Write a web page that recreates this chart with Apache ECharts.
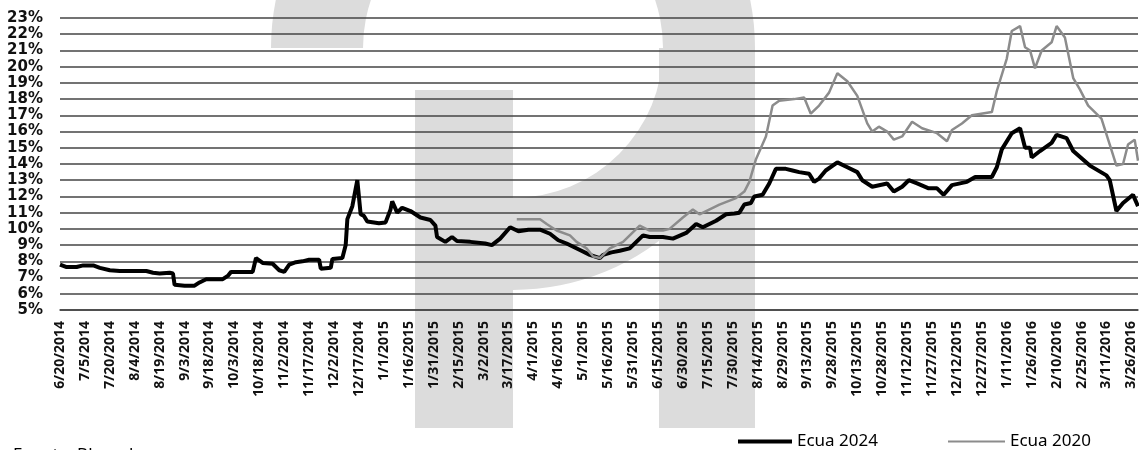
<!DOCTYPE html>
<html>
<head>
<meta charset="utf-8">
<script src="https://cdn.jsdelivr.net/npm/echarts@6/dist/echarts.min.js"></script>
<style>
html,body{margin:0;padding:0;background:#fff;}
#chart{width:1139px;height:450px;}
</style>
</head>
<body>
<div id="chart"></div>
<script>
// Axis start date; x values below are days since this date
const startDate = '2014-06-20';
const tickStepDays = 15;
const xTickLabels = ['6/20/2014','7/5/2014','7/20/2014','8/4/2014','8/19/2014','9/3/2014','9/18/2014','10/3/2014','10/18/2014','11/2/2014','11/17/2014','12/2/2014','12/17/2014','1/1/2015','1/16/2015','1/31/2015','2/15/2015','3/2/2015','3/17/2015','4/1/2015','4/16/2015','5/1/2015','5/16/2015','5/31/2015','6/15/2015','6/30/2015','7/15/2015','7/30/2015','8/14/2015','8/29/2015','9/13/2015','9/28/2015','10/13/2015','10/28/2015','11/12/2015','11/27/2015','12/12/2015','12/27/2015','1/11/2016','1/26/2016','2/10/2016','2/25/2016','3/11/2016','3/26/2016'];
const lastDay = 649;

const seriesNames = ['Ecua 2024', 'Ecua 2020'];

const ecua2024Days = [0,4,10,14,20,24,30,36,52,56,60,66,68,69,75,81,84,88,98,101,103,116,118,122,128,132,135,138,142,146,150,156,157,163,164,170,172,173,176,179,181,183,185,192,196,199,200,203,206,211,217,223,226,227,232,236,239,247,256,260,265,271,276,282,289,295,300,305,313,319,325,327,332,337,343,347,351,355,363,369,377,383,387,395,401,406,409,412,416,418,423,427,431,437,441,445,451,454,457,461,468,474,480,483,489,498,502,507,511,516,523,528,532,537,546,551,561,564,567,573,578,581,584,585,590,597,600,606,610,620,630,632,636,640,646,647,649];
const ecua2024Values = [7.8,7.65,7.65,7.75,7.75,7.6,7.45,7.4,7.4,7.3,7.25,7.3,7.25,6.55,6.5,6.5,6.7,6.9,6.9,7.1,7.35,7.35,8.2,7.9,7.85,7.45,7.35,7.8,7.95,8.0,8.1,8.1,7.55,7.6,8.15,8.2,9.0,10.6,11.4,13.0,10.9,10.8,10.45,10.35,10.4,11.2,11.7,11.0,11.3,11.1,10.7,10.55,10.2,9.5,9.2,9.5,9.25,9.2,9.1,9.0,9.4,10.1,9.85,9.95,9.95,9.7,9.3,9.1,8.7,8.4,8.2,8.4,8.55,8.65,8.8,9.2,9.6,9.5,9.5,9.4,9.75,10.3,10.1,10.5,10.9,10.95,11.0,11.5,11.6,12.0,12.1,12.8,13.7,13.7,13.6,13.5,13.4,12.9,13.1,13.6,14.1,13.8,13.5,13.0,12.6,12.8,12.3,12.6,13.0,12.8,12.5,12.5,12.1,12.7,12.9,13.2,13.2,13.8,14.9,15.9,16.2,15.0,15.0,14.4,14.8,15.3,15.8,15.6,14.8,13.9,13.3,13.0,11.1,11.6,12.1,12.1,11.4];

const ecua2020Days = [275,289,293,299,307,311,317,321,325,331,339,341,345,349,355,363,367,375,381,385,397,407,412,415,419,425,429,433,442,448,452,457,463,468,474,480,486,489,493,498,502,507,513,519,528,534,537,543,549,561,564,570,573,578,581,584,587,591,597,600,605,610,614,619,627,632,636,640,643,647,649];
const ecua2020Values = [10.6,10.6,10.3,9.9,9.6,9.2,8.8,8.3,8.2,8.8,9.2,9.4,9.8,10.2,9.9,9.9,10.0,10.7,11.2,10.9,11.5,11.9,12.3,12.9,14.3,15.7,17.6,17.9,18.0,18.1,17.1,17.6,18.4,19.6,19.1,18.2,16.5,16.0,16.3,16.0,15.5,15.7,16.6,16.2,15.9,15.4,16.1,16.5,17.0,17.2,18.5,20.5,22.2,22.5,21.2,21.0,19.9,21.0,21.5,22.5,21.8,19.3,18.6,17.6,16.8,15.2,13.9,14.0,15.2,15.5,14.2];

const yMin = 5, yMax = 23, yStep = 1;
const sourceText = 'Fuente: Bloomberg';

const chart = echarts.init(document.getElementById('chart'), null, {renderer: 'canvas'});
const FONT = '"Noto Sans", "Open Sans", sans-serif';
const YFONT = '"DejaVu Sans", "Noto Sans", sans-serif';
const wm = '#dcdcdc';

const option = {
  animation: false,
  backgroundColor: '#fff',
  grid: {left: 60, right: 1, top: 18, bottom: 140, containLabel: false},
  graphic: {
    elements: [
      {type: 'sector', z: -10, silent: true, shape: {cx: 513, cy: 48, r: 242, r0: 150, startAngle: Math.PI, endAngle: Math.PI * 2.5, clockwise: true}, style: {fill: wm}},
      {type: 'rect', z: -10, silent: true, shape: {x: 659, y: 48, width: 96, height: 380}, style: {fill: wm}},
      {type: 'rect', z: -10, silent: true, shape: {x: 415, y: 90, width: 98, height: 338}, style: {fill: wm}},
      {type: 'text', left: 13, top: 447, silent: true, style: {text: sourceText, font: '17px "Noto Sans", sans-serif', fill: '#000'}}
    ]
  },
  legend: [
    {data: [seriesNames[0]], left: 733, top: 428, icon: 'rect', itemWidth: 54, itemHeight: 4, itemGap: 0,
     textStyle: {fontSize: 17, color: '#000', fontFamily: FONT, padding: [0, 0, 0, 0]}},
    {data: [seriesNames[1]], left: 943, top: 428, icon: 'rect', itemWidth: 57, itemHeight: 2, itemGap: 0,
     textStyle: {fontSize: 17, color: '#000', fontFamily: FONT}}
  ],
  xAxis: {
    type: 'value', min: 0, max: lastDay, interval: tickStepDays,
    axisLine: {show: true, lineStyle: {color: '#444', width: 1.5}},
    axisTick: {show: false},
    splitLine: {show: false},
    axisLabel: {
      rotate: 90, margin: 11, fontSize: 14, fontWeight: 'bold', color: '#111', fontFamily: FONT,
      showMaxLabel: false,
      formatter: function (v) {
        if (v % tickStepDays !== 0) return '';
        return xTickLabels[v / tickStepDays] || '';
      }
    }
  },
  yAxis: {
    type: 'value', min: yMin, max: yMax, interval: yStep,
    axisLine: {show: false}, axisTick: {show: false},
    splitLine: {show: true, lineStyle: {color: '#444', width: 1.5}},
    axisLabel: {formatter: '{value}%', fontSize: 15, fontWeight: 'bold', color: '#111', margin: 17, fontFamily: YFONT}
  },
  series: [
    {name: seriesNames[0], type: 'line', showSymbol: false, symbol: 'none',
     data: ecua2024Days.map((d, i) => [d, ecua2024Values[i]]),
     lineStyle: {color: '#000', width: 4}, itemStyle: {color: '#000'}},
    {name: seriesNames[1], type: 'line', showSymbol: false, symbol: 'none',
     data: ecua2020Days.map((d, i) => [d, ecua2020Values[i]]),
     lineStyle: {color: '#8c8c8c', width: 2.5}, itemStyle: {color: '#8c8c8c'}}
  ]
};
chart.setOption(option);
</script>
</body>
</html>
